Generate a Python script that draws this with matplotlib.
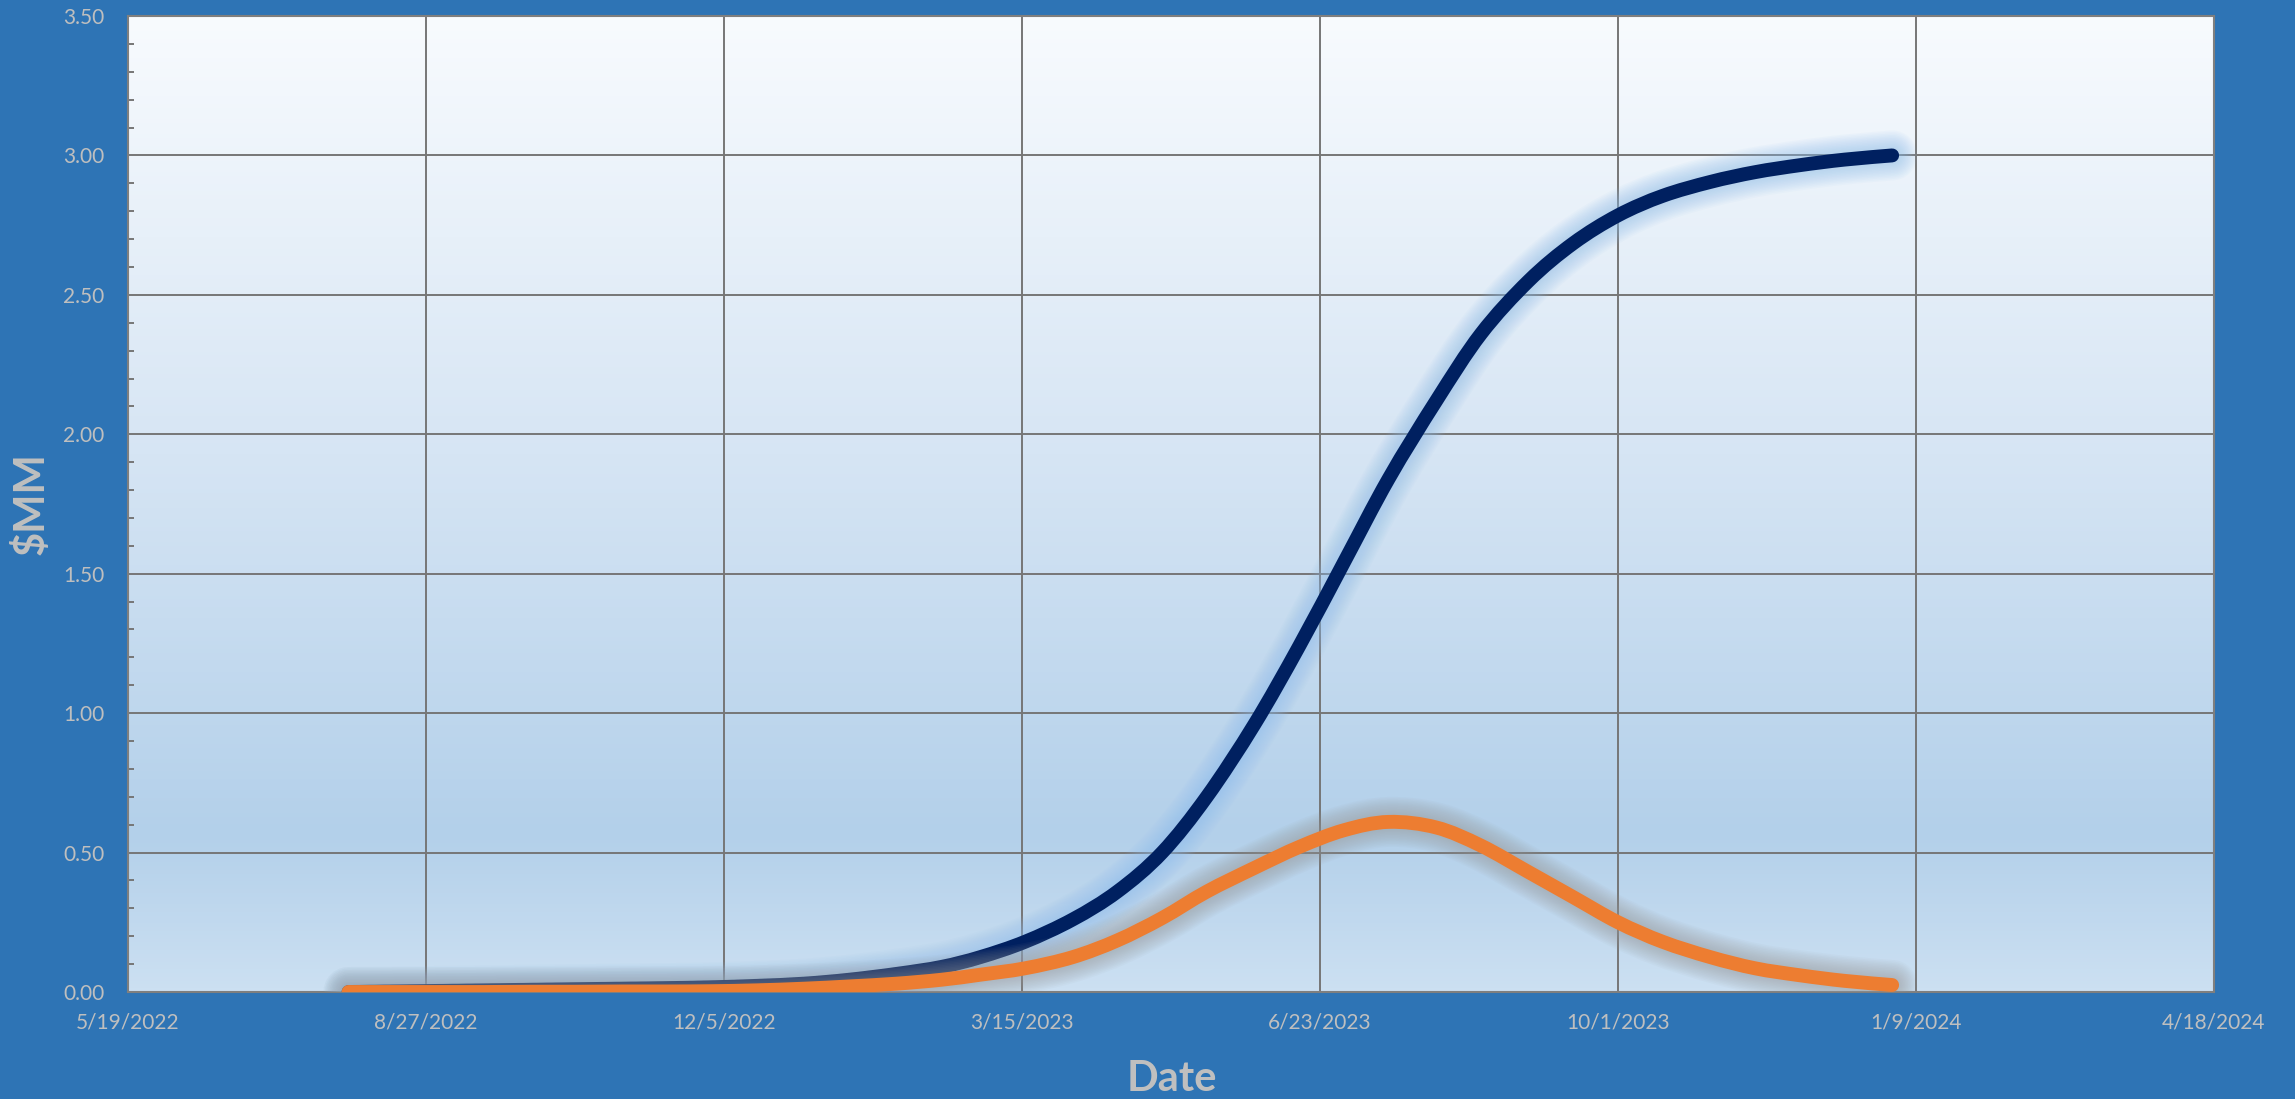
import datetime as dt
import numpy as np
import matplotlib
matplotlib.use("Agg")
import matplotlib.pyplot as plt
import matplotlib.dates as mdates
import matplotlib.patheffects as pe
from matplotlib.path import Path
from matplotlib.patches import PathPatch
from matplotlib.colors import LinearSegmentedColormap
from matplotlib.ticker import MultipleLocator, FixedLocator, FuncFormatter

# ---------------- data ($MM, twice a month) ----------------
dates = ["2022-08-01", "2022-08-16", "2022-09-01", "2022-09-16", "2022-10-01",
         "2022-10-16", "2022-11-01", "2022-11-16", "2022-12-01", "2022-12-16",
         "2023-01-01", "2023-01-16", "2023-02-01", "2023-02-16", "2023-03-01",
         "2023-03-16", "2023-04-01", "2023-04-16", "2023-05-01", "2023-05-16",
         "2023-06-01", "2023-06-16", "2023-07-01", "2023-07-16", "2023-08-01",
         "2023-08-16", "2023-09-01", "2023-09-16", "2023-10-01", "2023-10-16",
         "2023-11-01", "2023-11-16", "2023-12-01", "2023-12-16", "2024-01-01"]
cumulative = [0.000, 0.002, 0.004, 0.006, 0.008, 0.010, 0.012, 0.014, 0.017, 0.022,
              0.030, 0.044, 0.065, 0.090, 0.125, 0.180, 0.260, 0.360, 0.500, 0.700,
              0.960, 1.240, 1.540, 1.840, 2.120, 2.360, 2.550, 2.685, 2.785, 2.855,
              2.905, 2.940, 2.965, 2.985, 3.000]
monthly = [0.000, 0.000, 0.000, 0.000, 0.001, 0.001, 0.002, 0.002, 0.003, 0.006,
           0.012, 0.020, 0.030, 0.044, 0.062, 0.085, 0.125, 0.185, 0.265, 0.360,
           0.445, 0.520, 0.580, 0.610, 0.590, 0.525, 0.430, 0.340, 0.250, 0.180,
           0.125, 0.085, 0.060, 0.040, 0.025]

x_first = "2022-05-19"
x_step_days = 100
x_tick_count = 8
y_max = 3.5

# ---------------- styling ----------------
BG = "#2E74B5"
TXT = "#BFBFBF"
GRID = "#767676"
NAVY = "#002060"
ORANGE = "#ED7D31"


def smooth_path(x, y):
    # cubic bezier through every point, tangents from neighbours (spreadsheet-style smoothing)
    pts = np.column_stack([x, y])
    n = len(pts)
    verts, codes = [pts[0]], [Path.MOVETO]
    for i in range(n - 1):
        p0, p1 = pts[max(i - 1, 0)], pts[i]
        p2, p3 = pts[i + 1], pts[min(i + 2, n - 1)]
        verts += [p1 + (p2 - p0) / 6, p2 - (p3 - p1) / 6, p2]
        codes += [Path.CURVE4] * 3
    return Path(verts, codes)


def glow(color, base, spread=26, steps=12, alpha=0.055):
    fx = [pe.Stroke(linewidth=base + spread * k / steps, foreground=color, alpha=alpha)
          for k in range(steps, 0, -1)]
    return fx + [pe.Normal()]


plt.rcParams["font.family"] = ["Lato", "DejaVu Sans"]

fig = plt.figure(figsize=(22.95, 10.99), dpi=100, facecolor=BG)
ax = fig.add_axes([128 / 2295, 1 - 992 / 1099, (2214 - 128) / 2295, (992 - 16) / 1099])

# plot-area gradient: pale at the top, deeper blue low down, a little lighter at the floor
cmap = LinearSegmentedColormap.from_list(
    "area", [(0.0, "#CCE0F2"), (0.16, "#B3D0EA"), (0.55, "#D6E5F4"), (1.0, "#F8FBFE")])
grad = np.linspace(0, 1, 256).reshape(-1, 1)
ax.imshow(grad, extent=[0, 1, 0, 1], transform=ax.transAxes, aspect="auto",
          origin="lower", cmap=cmap, zorder=0)

xd = mdates.date2num([dt.datetime.fromisoformat(d) for d in dates])
lw = 10
for vals, color, halo, z in [(cumulative, NAVY, "#8FBDEB", 3),
                             (monthly, ORANGE, "#9A9A9A", 4)]:
    patch = PathPatch(smooth_path(xd, vals), fill=False, edgecolor=color, lw=lw,
                      capstyle="round", joinstyle="round", zorder=z)
    patch.set_path_effects(glow(halo, lw))
    ax.add_patch(patch)

start = dt.datetime.fromisoformat(x_first)
ticks = [start + dt.timedelta(days=x_step_days * k) for k in range(x_tick_count)]
tick_nums = mdates.date2num(ticks)
ax.set_xlim(tick_nums[0], tick_nums[-1])
ax.set_ylim(0, y_max)
ax.set_autoscale_on(False)

ax.xaxis.set_major_locator(FixedLocator(tick_nums))
ax.xaxis.set_major_formatter(FuncFormatter(
    lambda v, _: "{d.month}/{d.day}/{d.year}".format(d=mdates.num2date(v))))
ax.yaxis.set_major_locator(MultipleLocator(0.5))
ax.yaxis.set_minor_locator(MultipleLocator(0.1))
ax.yaxis.set_major_formatter(FuncFormatter(lambda v, _: f"{v:.2f}"))

ax.grid(True, which="major", color=GRID, lw=1.4, zorder=1)
ax.set_axisbelow(True)
ax.tick_params(axis="both", which="major", length=0, labelsize=15, labelcolor=TXT)
ax.tick_params(axis="y", pad=17)
ax.tick_params(axis="x", pad=15)
ax.tick_params(axis="y", which="minor", direction="in", length=4.5, width=1.4, color=GRID)
for s in ax.spines.values():
    s.set_color("#7F7F7F")
    s.set_linewidth(1.5)

fig.text(1172 / 2295, 1 - 1091 / 1099, "Date", ha="center", va="baseline",
         fontsize=30, fontweight="bold", color=TXT)
fig.text(31 / 2295, 1 - 504 / 1099, "$MM", ha="center", va="center", rotation=90,
         fontsize=30, fontweight="bold", color=TXT)

fig.savefig("out.png", dpi=100, facecolor=BG)
